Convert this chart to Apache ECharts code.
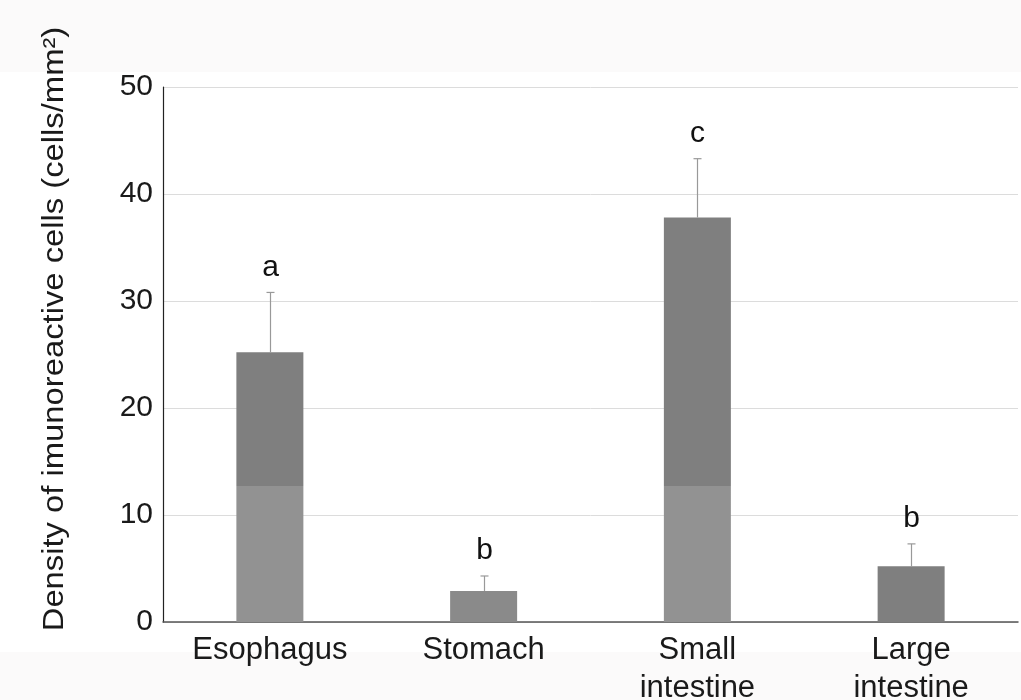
<!DOCTYPE html>
<html>
<head>
    <meta charset="UTF-8">
    <title>Density of imunoreactive cells</title>
    <script src="https://cdn.jsdelivr.net/npm/echarts@6/dist/echarts.min.js"></script>
    <style type="text/css">
        html, body, #main {
            height: 100%;
            width: 100%;
            margin: 0;
            padding: 0
        }
    </style>
</head>
<body>
<div id="main"></div>
<script type="text/javascript">
    // data
    var categories = ['Esophagus', 'Stomach', 'Small\nintestine', 'Large\nintestine'];
    var means = [25.2, 2.9, 37.8, 5.2];
    var errors = [5.6, 1.4, 5.5, 2.1];
    var letters = ['a', 'b', 'c', 'b'];
    var yTicks = [0, 10, 20, 30, 40, 50];

    var font = '"Liberation Sans", Arial, sans-serif';
    var dark = '#7f7f7f', light = '#929292';
    var shadeLevel = 12.7; // lighter lower band seen in the scan

    // bar colours: the two tall bars have a lighter bottom part
    var barData = means.map(function (v, i) {
        var color = dark;
        if (v > shadeLevel && (i === 0 || i === 2)) {
            var f = (v - shadeLevel) / v;
            color = new echarts.graphic.LinearGradient(0, 0, 0, 1, [
                {offset: 0, color: dark}, {offset: f, color: dark},
                {offset: f, color: light}, {offset: 1, color: light}
            ]);
        } else if (i === 1) {
            color = '#8a8a8a';
        }
        return {value: v, itemStyle: {color: color}};
    });

    var errData = means.map(function (v, i) {
        return [i, v, v + errors[i], letters[i]];
    });

    var mycharts = echarts.init(document.getElementById('main'));
    var option = {
        backgroundColor: '#fbfafa',
        animation: false,
        graphic: [
            {type: 'rect', left: 0, top: 72, z: -10, shape: {width: 1021, height: 580}, style: {fill: '#ffffff'}},
            {
                type: 'text', x: 55, y: 329, rotation: Math.PI / 2, scaleX: 1.13,
                style: {
                    text: 'Density of imunoreactive cells (cells/mm²)',
                    font: '29px ' + font, fill: '#1a1a1a',
                    align: 'center', verticalAlign: 'middle'
                }
            }
        ],
        grid: {left: 163, right: 3, top: 87, bottom: 78, outerBoundsMode: 'none', containLabel: false},
        xAxis: {
            type: 'category',
            data: categories,
            axisLine: {lineStyle: {color: '#555', width: 1.5}},
            axisTick: {show: false},
            axisLabel: {
                color: '#1a1a1a', fontSize: 31, fontFamily: font,
                margin: 9, lineHeight: 38, interval: 0
            }
        },
        yAxis: {
            type: 'value',
            min: yTicks[0], max: yTicks[yTicks.length - 1], interval: 10,
            axisLine: {show: true, lineStyle: {color: '#222', width: 1.2}},
            axisTick: {show: false},
            axisLabel: {color: '#1a1a1a', fontSize: 30, fontFamily: font, margin: 10},
            splitLine: {lineStyle: {color: '#dcdcdc', width: 1}}
        },
        series: [
            {
                type: 'bar',
                data: barData,
                barWidth: 67
            },
            {
                type: 'custom',
                data: errData,
                z: 5,
                renderItem: function (params, api) {
                    var base = api.coord([api.value(0), api.value(1)]);
                    var top = api.coord([api.value(0), api.value(2)]);
                    var x = Math.round(base[0]) + 0.5;
                    var st = {stroke: '#999', lineWidth: 1.2};
                    return {
                        type: 'group',
                        children: [
                            {type: 'line', shape: {x1: x, y1: base[1], x2: x, y2: top[1]}, style: st},
                            {type: 'line', shape: {x1: x - 4, y1: top[1], x2: x + 4, y2: top[1]}, style: st},
                            {
                                type: 'text', x: x, y: top[1] - 25,
                                style: {
                                    text: api.value(3), font: '30px ' + font, fill: '#111',
                                    align: 'center', verticalAlign: 'middle'
                                }
                            }
                        ]
                    };
                }
            }
        ]
    };
    mycharts.setOption(option);
</script>
</body>
</html>
